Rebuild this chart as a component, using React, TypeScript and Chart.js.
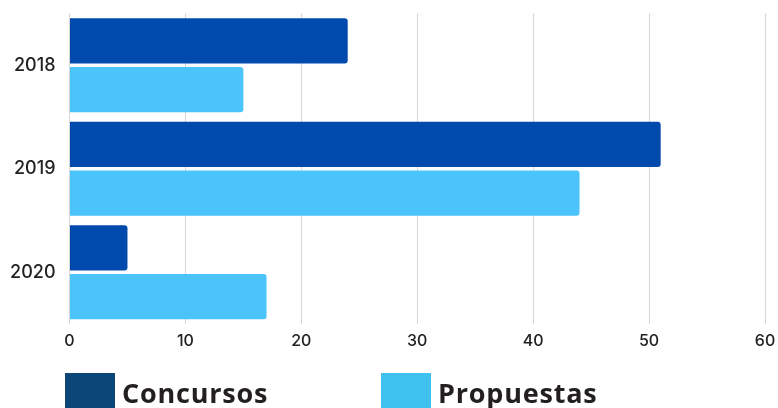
import { useEffect, useRef } from "react";
import { Chart, registerables } from "chart.js";

Chart.register(...registerables);

const years = ["2018", "2019", "2020"];
const concursos = [24, 51, 5];
const propuestas = [15, 44, 17];
const xMin = 0;
const xMax = 60;
const xStep = 10;
const seriesNames = ["Concursos", "Propuestas"];

export default function App() {
  const ref = useRef<HTMLCanvasElement>(null);

  useEffect(() => {
    if (!ref.current) return;
    const legendPlugin = {
      id: "bigLegend",
      afterDraw(chart: any) {
        const ctx = chart.ctx;
        const items = [
          { x: 65, color: "#0b4677" },
          { x: 381, color: "#3ec1ef" },
        ];
        ctx.save();
        chart.data.datasets.forEach((ds: any, i: number) => {
          const it = items[i];
          ctx.fillStyle = it.color;
          ctx.fillRect(it.x, 373, 50, 50);
          ctx.fillStyle = "#231f20";
          ctx.font = "bold 27px 'Open Sans'";
          (ctx as any).letterSpacing = "0.8px";
          ctx.textBaseline = "alphabetic";
          ctx.textAlign = "left";
          ctx.fillText(ds.label, it.x + 57, 403);
        });
        ctx.restore();
      },
    };

    const chart = new Chart(ref.current, {
      type: "bar",
      data: {
        labels: years,
        datasets: [
          {
            label: seriesNames[0],
            data: concursos,
            backgroundColor: "#004aad",
            borderRadius: 3,
            borderSkipped: "start",
            categoryPercentage: 0.942,
            barPercentage: 0.928,
          },
          {
            label: seriesNames[1],
            data: propuestas,
            backgroundColor: "#4ac4fb",
            borderRadius: 3,
            borderSkipped: "start",
            categoryPercentage: 0.942,
            barPercentage: 0.928,
          },
        ],
      },
      options: {
        indexAxis: "y",
        animation: false,
        responsive: true,
        maintainAspectRatio: false,
        layout: { padding: { top: 13.4, right: 13, left: 0, bottom: 0 } },
        plugins: {
          legend: { display: false },
          tooltip: { enabled: false },
        },
        scales: {
          x: {
            min: xMin,
            max: xMax,
            ticks: {
              stepSize: xStep,
              color: "#222",
              font: { family: "Inter", size: 16, weight: 500 },
              padding: 8,
            },
            grid: { color: "#d6d6d6", drawTicks: false },
            border: { display: false },
            afterFit(s: any) {
              s.height = 84;
              s.paddingLeft = 0;
              s.paddingRight = 0;
            },
          },
          y: {
            ticks: {
              color: "#222",
              font: { family: "Inter", size: 18, weight: 500 },
              padding: 14,
            },
            grid: { display: false, drawTicks: false },
            border: { display: false },
            afterFit(s: any) {
              s.width = 69.5;
              s.paddingTop = 0;
              s.paddingBottom = 0;
            },
          },
        },
      },
      plugins: [legendPlugin],
    });
    return () => chart.destroy();
  }, []);

  return (
    <div style={{ position: "fixed", left: 0, top: 0, width: 778, height: 408, background: "#fff" }}>
      <canvas ref={ref} />
    </div>
  );
}
